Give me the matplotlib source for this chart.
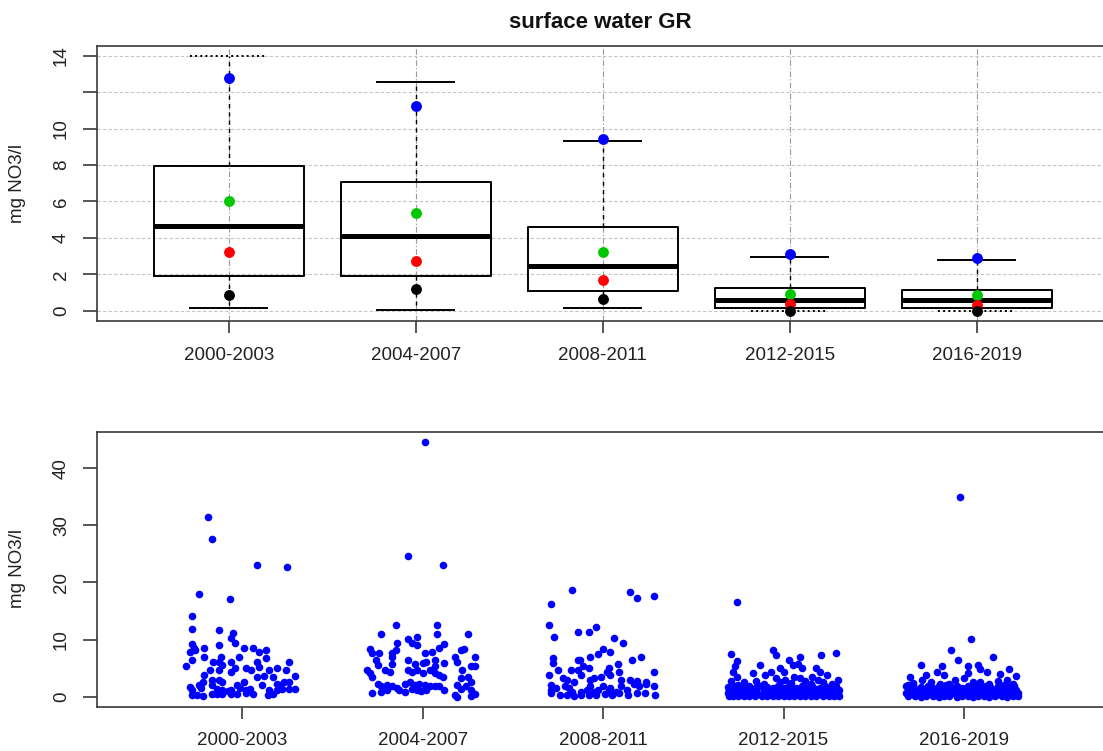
import matplotlib
matplotlib.use("Agg")
import matplotlib.pyplot as plt
import numpy as np

plt.rcParams['font.family'] = ['Liberation Sans', 'DejaVu Sans']

periods = ['2000-2003', '2004-2007', '2008-2011', '2012-2015', '2016-2019']

# box statistics, mg NO3/l
box_low = [0.15, 0.05, 0.15, 0.0, 0.0]
box_q1 = [1.88, 1.88, 1.06, 0.15, 0.15]
box_med = [4.63, 4.08, 2.43, 0.57, 0.60]
box_q3 = [7.92, 7.05, 4.58, 1.25, 1.15]
box_high = [14.0, 12.56, 9.32, 2.95, 2.80]

# extra summary points drawn on top of the boxes
pt_blue = [12.78, 11.26, 9.40, 3.11, 2.87]
pt_green = [6.00, 5.34, 3.20, 0.93, 0.88]
pt_red = [3.20, 2.71, 1.66, 0.38, 0.33]
pt_black = [0.84, 1.19, 0.66, 0.00, 0.00]

# individual samples: (jitter from period centre, value)
samples_2000 = [(-0.19, 31.4), (-0.17, 27.6), (0.08, 23.0), (0.25, 22.8), (-0.24, 17.9), (-0.07, 17.1),
                (-0.28, 14.1), (-0.28, 11.9), (-0.13, 11.7), (-0.05, 11.1), (-0.06, 10.2), (-0.04, 9.4),
                (-0.13, 9.1), (-0.28, 9.3), (-0.27, 8.5), (-0.29, 7.9), (-0.26, 8.2), (-0.21, 8.5),
                (0.01, 8.6), (0.06, 8.6), (0.09, 7.9), (0.13, 8.2), (-0.21, 7.0), (-0.12, 7.0),
                (-0.13, 6.1), (-0.11, 5.6), (-0.16, 6.1), (-0.02, 7.0), (-0.06, 6.1), (-0.28, 6.4),
                (-0.31, 5.4), (0.02, 5.0), (0.05, 4.7), (0.08, 6.1), (0.09, 5.2), (0.13, 6.7),
                (0.15, 4.7), (0.19, 5.1), (0.26, 6.1), (0.24, 4.7), (0.29, 3.6), (-0.18, 4.7),
                (-0.21, 3.8), (-0.13, 4.7), (-0.06, 4.4), (-0.04, 5.0), (0.08, 3.4), (0.12, 3.6),
                (0.17, 3.4), (0.19, 2.3), (0.21, 2.0), (0.23, 2.6), (0.26, 2.6), (0.26, 1.3),
                (0.29, 1.3), (-0.17, 2.9), (-0.13, 2.9), (-0.11, 2.6), (-0.22, 2.6), (-0.24, 2.0),
                (-0.23, 1.5), (-0.29, 1.7), (-0.28, 1.1), (-0.17, 2.0), (-0.14, 1.3), (-0.11, 1.1),
                (-0.08, 1.0), (-0.06, 1.1), (-0.03, 2.0), (-0.01, 1.5), (0.02, 1.1), (0.04, 1.3),
                (0.11, 2.0), (0.15, 1.1), (0.17, 0.4), (-0.28, 0.3), (-0.25, 0.3), (-0.22, 0.1),
                (-0.17, 0.4), (-0.14, 0.4), (-0.11, 0.4), (-0.06, 0.4), (-0.03, 0.4), (0.02, 0.7),
                (0.06, 0.5), (0.19, 1.1), (0.22, 1.3), (0.01, 2.6), (0.14, 0.3)]

samples_2004 = [(0.01, 44.6), (-0.08, 24.6), (0.11, 23.0), (-0.15, 12.5), (0.08, 12.5), (-0.23, 10.9),
                (0.08, 10.9), (0.25, 10.9), (-0.08, 10.1), (-0.03, 10.5), (-0.06, 9.4), (-0.03, 9.1),
                (-0.14, 9.4), (-0.29, 8.3), (-0.28, 7.6), (-0.24, 7.6), (-0.15, 8.2), (-0.17, 7.0),
                (-0.17, 7.6), (0.01, 7.6), (0.05, 7.9), (0.09, 8.5), (0.12, 9.2), (0.18, 7.0),
                (0.21, 8.2), (0.23, 8.3), (0.29, 7.0), (-0.26, 6.4), (-0.25, 5.6), (-0.17, 5.8),
                (-0.08, 6.4), (-0.04, 5.8), (0.0, 5.9), (0.02, 6.1), (0.07, 6.4), (0.07, 5.3),
                (0.12, 5.9), (0.19, 6.1), (0.29, 5.4), (0.27, 5.3), (-0.31, 4.6), (-0.29, 4.1),
                (-0.28, 3.5), (-0.21, 4.7), (-0.18, 4.4), (-0.08, 4.7), (-0.06, 4.4), (-0.03, 4.7),
                (0.04, 4.7), (0.07, 4.1), (0.09, 3.8), (0.11, 3.5), (0.0, 4.1), (0.22, 4.7),
                (0.21, 3.2), (0.25, 3.4), (0.27, 2.6), (-0.25, 2.3), (-0.23, 1.8), (-0.20, 2.1),
                (-0.17, 1.8), (-0.14, 1.5), (-0.10, 2.3), (-0.07, 2.6), (-0.04, 2.1), (-0.02, 2.2),
                (0.01, 2.1), (0.04, 1.8), (-0.06, 1.3), (-0.03, 1.2), (-0.01, 1.0), (0.02, 1.2),
                (-0.13, 1.2), (-0.10, 0.9), (-0.23, 0.9), (-0.20, 1.2), (0.09, 1.8), (0.12, 1.2),
                (0.19, 2.1), (0.21, 1.3), (0.24, 1.8), (0.27, 1.2), (0.29, 0.5), (-0.28, 0.6),
                (0.18, 0.3), (0.19, 0.0), (0.27, 0.2), (0.07, 1.8)]

samples_2008 = [(-0.17, 18.7), (-0.29, 16.2), (0.15, 18.4), (0.19, 17.2), (0.28, 17.6), (-0.30, 12.6),
                (-0.27, 10.5), (-0.14, 11.4), (-0.08, 11.4), (-0.04, 12.2), (0.06, 10.2), (0.11, 9.35),
                (0.0, 8.3), (0.04, 7.9), (-0.03, 7.5), (-0.07, 7.0), (-0.14, 6.5), (-0.13, 6.5),
                (-0.28, 6.7), (-0.28, 5.9), (0.16, 6.5), (0.21, 7.0), (-0.11, 5.4), (-0.08, 5.1),
                (0.03, 5.1), (0.02, 4.4), (-0.25, 4.7), (-0.18, 4.7), (-0.14, 4.7), (0.08, 5.7),
                (0.09, 4.4), (0.28, 4.4), (-0.30, 3.8), (-0.12, 3.8), (-0.01, 3.5), (0.04, 3.8),
                (-0.22, 3.2), (-0.20, 2.9), (-0.16, 2.6), (-0.07, 2.9), (-0.05, 3.2), (0.10, 2.9),
                (0.15, 2.9), (0.19, 2.8), (0.24, 2.6), (-0.29, 2.0), (-0.26, 1.5), (-0.29, 1.1),
                (-0.21, 1.8), (-0.19, 1.5), (-0.17, 0.9), (-0.12, 0.9), (-0.09, 1.2), (-0.07, 1.8),
                (-0.05, 0.9), (-0.03, 1.2), (0.0, 1.8), (0.03, 1.1), (0.04, 1.5), (0.07, 0.9),
                (0.10, 1.8), (0.13, 1.2), (0.17, 2.2), (0.20, 1.8), (0.24, 2.2), (0.28, 1.8),
                (-0.29, 0.6), (-0.24, 0.3), (-0.20, 0.3), (-0.16, 0.1), (-0.12, 0.3), (-0.08, 0.3),
                (-0.04, 0.3), (0.01, 0.5), (0.05, 0.3), (0.09, 0.6), (0.14, 0.3), (0.19, 0.6),
                (0.23, 0.7), (0.29, 0.3)]

samples_2012 = [(-0.26, 16.5), (-0.29, 7.5), (-0.06, 8.1), (-0.04, 7.3), (0.09, 7.0), (0.21, 7.3),
                (0.29, 7.6), (-0.26, 6.2), (-0.27, 5.3), (-0.13, 5.6), (0.03, 6.4), (0.05, 5.6),
                (0.08, 5.8), (0.10, 5.1), (-0.02, 5.1), (0.0, 4.4), (-0.07, 4.4), (-0.10, 3.8),
                (0.18, 5.1), (0.20, 4.4), (0.16, 3.5), (0.24, 3.8), (-0.28, 4.4), (-0.26, 3.5),
                (-0.17, 4.1), (0.06, 3.5), (0.09, 3.2), (-0.04, 3.2), (0.01, 2.9),
                (-0.29, 2.8), (-0.22, 2.5), (-0.15, 2.7), (-0.11, 2.3), (-0.02, 2.6), (0.04, 2.4),
                (0.12, 2.7), (0.15, 2.2), (0.22, 2.6), (0.27, 2.3), (0.30, 2.9), (-0.25, 2.1), (0.19, 3.0),
                (-0.31, 1.7), (-0.27, 1.9), (-0.23, 1.6), (-0.19, 1.8), (-0.16, 1.5), (-0.13, 1.9),
                (-0.09, 1.7), (-0.06, 1.6), (-0.03, 1.9), (0.0, 1.6), (0.03, 1.8), (0.07, 1.5),
                (0.10, 1.9), (0.13, 1.6), (0.16, 1.8), (0.20, 1.5), (0.23, 1.9), (0.26, 1.6), (0.29, 1.8),
                (-0.30, 1.1), (-0.28, 1.3), (-0.25, 1.0), (-0.21, 1.2), (-0.18, 1.0), (-0.15, 1.2),
                (-0.11, 1.1), (-0.08, 1.3), (-0.05, 1.0), (-0.01, 1.2), (0.02, 1.1), (0.05, 1.3),
                (0.08, 1.0), (0.12, 1.2), (0.15, 1.1), (0.18, 1.3), (0.21, 1.0), (0.24, 1.2),
                (0.27, 1.1), (0.31, 1.2),
                (-0.31, 0.6), (-0.27, 0.7), (-0.24, 0.5), (-0.20, 0.6), (-0.17, 0.7), (-0.14, 0.5),
                (-0.10, 0.6), (-0.07, 0.7), (-0.04, 0.5), (-0.02, 0.6), (0.01, 0.7), (0.04, 0.5),
                (0.07, 0.6), (0.11, 0.7), (0.14, 0.5), (0.17, 0.6), (0.20, 0.7), (0.23, 0.5),
                (0.26, 0.6), (0.30, 0.7),
                (-0.30, 0.1), (-0.28, 0.2), (-0.25, 0.1), (-0.22, 0.2), (-0.19, 0.1), (-0.16, 0.2),
                (-0.12, 0.1), (-0.09, 0.2), (-0.06, 0.1), (-0.03, 0.2), (0.0, 0.1), (0.03, 0.2),
                (0.06, 0.1), (0.09, 0.2), (0.12, 0.1), (0.15, 0.2), (0.18, 0.1), (0.22, 0.2),
                (0.25, 0.1), (0.28, 0.2), (0.31, 0.1)]

samples_2016 = [(-0.02, 34.9), (0.04, 10.1), (-0.07, 8.2), (0.16, 6.9), (-0.03, 6.5), (-0.24, 5.6),
                (-0.12, 5.4), (0.02, 5.4), (0.08, 5.6), (0.09, 4.8), (0.25, 4.8), (0.13, 4.4),
                (-0.15, 4.4), (-0.11, 3.8), (-0.21, 3.8), (-0.23, 3.0), (-0.30, 3.5), (0.02, 4.1),
                (0.0, 3.2), (0.20, 4.0), (0.29, 3.6), (0.24, 2.9), (-0.05, 2.9), (-0.08, 2.3),
                (0.09, 2.6), (0.14, 2.3), (-0.28, 2.4), (-0.18, 2.6), (-0.13, 2.2), (0.05, 2.5),
                (0.19, 2.7), (0.27, 2.2), (-0.31, 2.1),
                (-0.32, 1.8), (-0.28, 2.0), (-0.24, 1.7), (-0.20, 1.9), (-0.17, 1.6), (-0.14, 1.8),
                (-0.10, 2.0), (-0.07, 1.7), (-0.04, 1.9), (-0.01, 1.6), (0.02, 1.8), (0.06, 2.0),
                (0.09, 1.7), (0.12, 1.9), (0.15, 1.6), (0.19, 1.8), (0.22, 2.0), (0.25, 1.7), (0.28, 1.9),
                (-0.31, 1.2), (-0.28, 1.0), (-0.25, 1.3), (-0.22, 1.1), (-0.18, 1.2), (-0.15, 1.0),
                (-0.12, 1.3), (-0.09, 1.1), (-0.05, 1.2), (-0.02, 1.0), (0.01, 1.3), (0.04, 1.1),
                (0.07, 1.2), (0.10, 1.0), (0.14, 1.3), (0.17, 1.1), (0.20, 1.2), (0.23, 1.0),
                (0.26, 1.3), (0.29, 1.1),
                (-0.32, 0.6), (-0.29, 0.5), (-0.26, 0.7), (-0.23, 0.6), (-0.19, 0.5), (-0.16, 0.7),
                (-0.13, 0.6), (-0.10, 0.5), (-0.06, 0.7), (-0.03, 0.6), (0.0, 0.5), (0.03, 0.7),
                (0.06, 0.6), (0.09, 0.5), (0.13, 0.7), (0.16, 0.6), (0.19, 0.5), (0.22, 0.7),
                (0.25, 0.6), (0.28, 0.5), (0.30, 0.7),
                (-0.31, 0.1), (-0.27, 0.2), (-0.24, 0.0), (-0.21, 0.1), (-0.17, 0.2), (-0.14, 0.0),
                (-0.11, 0.1), (-0.08, 0.2), (-0.04, 0.0), (-0.01, 0.1), (0.02, 0.2), (0.05, 0.0),
                (0.08, 0.1), (0.11, 0.2), (0.14, 0.0), (0.17, 0.1), (0.21, 0.2), (0.24, 0.0),
                (0.27, 0.1), (0.30, 0.2)]

samples = [samples_2000, samples_2004, samples_2008, samples_2012, samples_2016]

W, H = 1103, 751
fig = plt.figure(figsize=(W / 100, H / 100), dpi=100)
fig.patch.set_facecolor('white')

FS = 13.5
spine_col = '#3a3a3a'


def px_axes(left, top, right, bottom):
    return fig.add_axes([left / W, 1 - bottom / H, (right - left) / W, (bottom - top) / H])


def style(ax, ticklen_y):
    for s in ax.spines.values():
        s.set_color(spine_col)
        s.set_linewidth(1.2)
    ax.tick_params(axis='y', direction='out', length=ticklen_y, width=1.2, color=spine_col,
                   labelsize=FS, pad=15.5, labelrotation=90)
    ax.tick_params(axis='x', direction='out', length=8.5, width=1.2, color=spine_col,
                   labelsize=FS, pad=10)
    for lab in ax.get_yticklabels():
        lab.set_va('center')
        lab.set_ha('center')
        lab.set_color('#222222')
    for lab in ax.get_xticklabels():
        lab.set_color('#222222')


pos = np.arange(1, len(periods) + 1)

# ---------- top: box plot ----------
ax1 = px_axes(97, 46, 1105, 321)
ax1.set_xlim(1 - (228.7 - 97) / 187.0, 1 + (1105 - 228.7) / 187.0)
ax1.set_ylim(-0.566, 14.53)

for yv in range(0, 16, 2):
    ax1.axhline(yv, color='#c4c4c4', lw=0.8, ls=(0, (3, 2)), zorder=0)
for p in pos:
    ax1.axvline(p, color='#9a9a9a', lw=0.8, ls=(0, (5, 2, 1, 2)), zorder=0)

stats = []
for i in range(len(periods)):
    stats.append(dict(med=box_med[i], q1=box_q1[i], q3=box_q3[i],
                      whislo=box_low[i], whishi=box_high[i], fliers=[]))
bp = ax1.bxp(stats, positions=pos, widths=0.8, capwidths=0.41, showfliers=False,
             boxprops=dict(color='black', lw=1.4),
             medianprops=dict(color='black', lw=3.6, solid_capstyle='butt'),
             whiskerprops=dict(color='black', lw=1.0, ls=(0, (3, 3))),
             capprops=dict(color='black', lw=1.4), manage_ticks=False)
# caps that sit on a grid line look dotted in the original
for k in (1, 6, 8):
    bp['caps'][k].set_linestyle(':')
for b in bp['boxes']:
    b.set_zorder(2)

for vals, col in [(pt_blue, '#0000ff'), (pt_green, '#00c800'), (pt_red, '#ff0000'), (pt_black, 'black')]:
    ax1.plot(pos, vals, 'o', color=col, ms=6.8, mec=col, zorder=5, ls='none')

ax1.set_yticks(range(0, 16, 2))
ax1.set_yticklabels(['0', '2', '4', '6', '8', '10', '', '14'])
ax1.set_xticks(pos)
ax1.set_xticklabels(periods)
style(ax1, 10)

# ---------- bottom: individual samples ----------
ax2 = px_axes(97, 431.7, 1105, 706.5)
ax2.set_xlim(1 - (242.3 - 97) / 180.4, 1 + (1105 - 242.3) / 180.4)
ax2.set_ylim(-1.72, 46.41)
for p, grp in zip(pos, samples):
    jit = np.array([g[0] for g in grp])
    val = np.array([g[1] for g in grp])
    ax2.scatter(p + jit, val, s=30, color='#0000ff', linewidths=0, zorder=3)
ax2.set_yticks([0, 10, 20, 30, 40])
ax2.set_xticks(pos)
ax2.set_xticklabels(periods)
style(ax2, 10)

# labels and title
fig.text(18 / W, 1 - 183.5 / H, 'mg NO3/l', rotation=90, ha='center', va='center', fontsize=FS, color='#222222')
fig.text(18 / W, 1 - 569 / H, 'mg NO3/l', rotation=90, ha='center', va='center', fontsize=FS, color='#222222')
fig.text(600 / W, 1 - 22 / H, 'surface water GR', ha='center', va='center', fontsize=16,
         fontweight='bold', color='#111111')

fig.savefig('out.png', dpi=100)
